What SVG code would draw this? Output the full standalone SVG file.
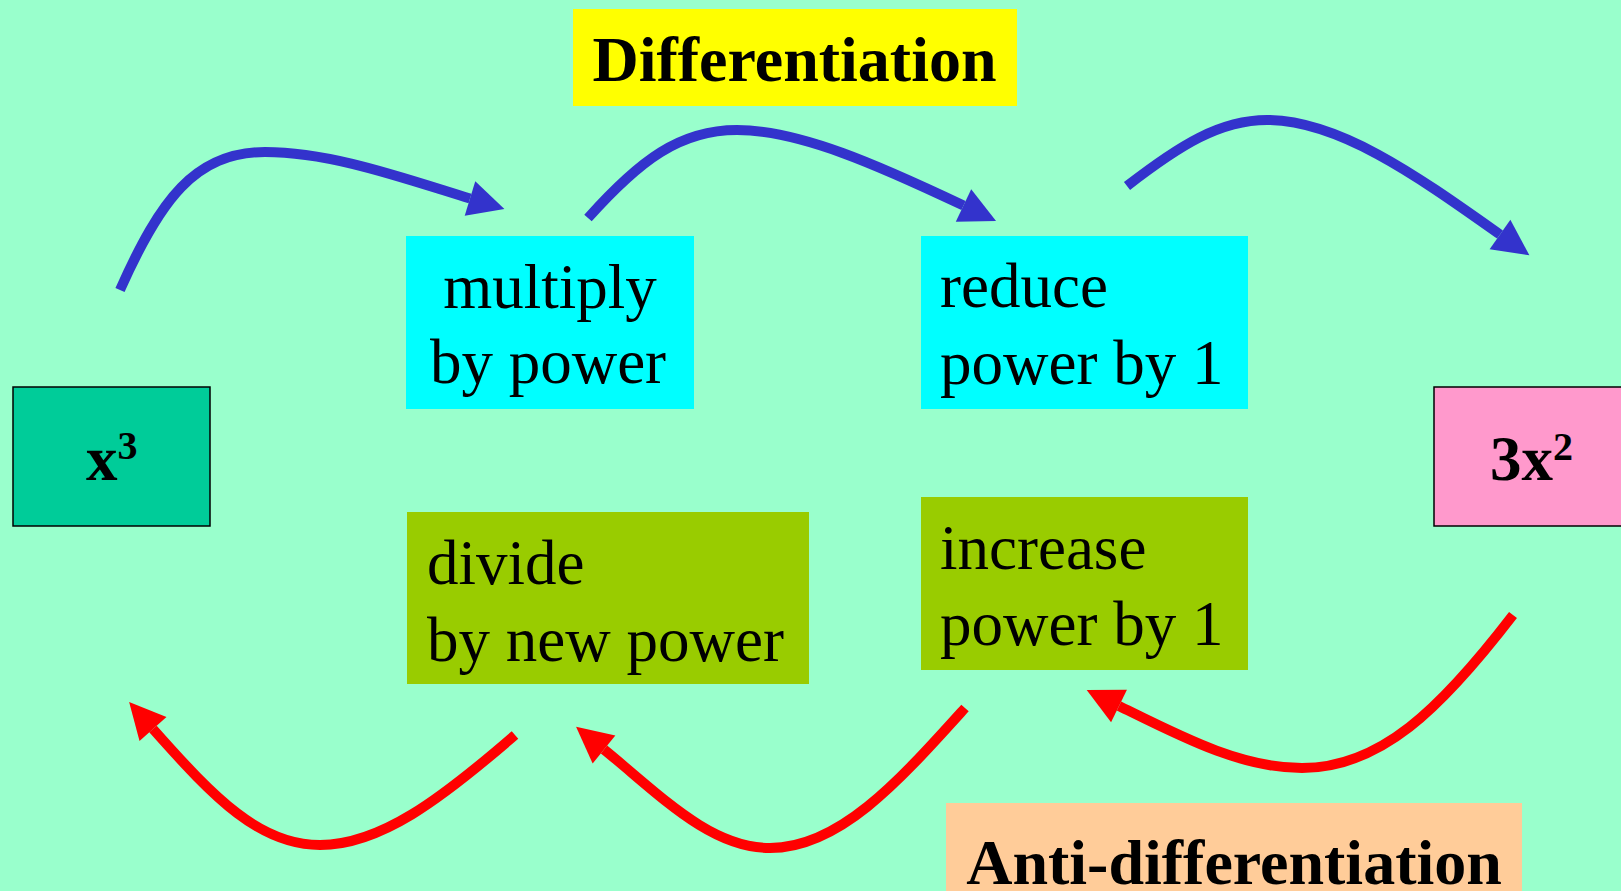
<svg xmlns="http://www.w3.org/2000/svg" width="1621" height="891" viewBox="0 0 1621 891">
<style>
.t{font-family:"Liberation Serif","Times New Roman",serif;font-size:63px;fill:#000}
.b{font-family:"Liberation Serif","Times New Roman",serif;font-weight:bold;fill:#000}
.blue{fill:none;stroke:#3333CC;stroke-width:10}
.red{fill:none;stroke:#FF0000;stroke-width:10}
</style>
<defs>
<marker id="hb" markerUnits="userSpaceOnUse" markerWidth="40" markerHeight="40" refX="0" refY="20" orient="auto" viewBox="0 0 40 40" overflow="visible">
<path d="M0,2 L36,20 L0,38 Z" fill="#3333CC"/>
</marker>
<marker id="hr" markerUnits="userSpaceOnUse" markerWidth="40" markerHeight="40" refX="0" refY="20" orient="auto" viewBox="0 0 40 40" overflow="visible">
<path d="M0,2 L36,20 L0,38 Z" fill="#FF0000"/>
</marker>
</defs>
<rect x="0" y="0" width="1621" height="891" fill="#99FFCC"/>

<g id="title-diff">
<rect x="573" y="9" width="444" height="97" fill="#FFFF00"/>
<text class="b" x="794.5" y="81" font-size="64" text-anchor="middle">Differentiation</text>
</g>
<g id="title-anti">
<rect x="946" y="803" width="576" height="100" fill="#FFCC99"/>
<text class="b" x="1234" y="884" font-size="64" text-anchor="middle">Anti-differentiation</text>
</g>

<g id="node-x3">
<rect x="13" y="387" width="197" height="139" fill="#00CC99" stroke="#000" stroke-width="1.5"/>
<text class="b" x="86" y="480" font-size="63">x<tspan font-size="40" dy="-21">3</tspan></text>
</g>
<g id="node-3x2">
<rect x="1434" y="387" width="200" height="139" fill="#FF99CC" stroke="#000" stroke-width="1.5"/>
<text class="b" x="1490" y="480" font-size="63">3x<tspan font-size="40" dy="-20">2</tspan></text>
</g>

<g id="node-multiply">
<rect x="406" y="236" width="288" height="173" fill="#00FFFF"/>
<text class="t" x="550" y="308" text-anchor="middle">multiply</text>
<text class="t" x="548" y="383" text-anchor="middle">by power</text>
</g>
<g id="node-reduce">
<rect x="921" y="236" width="327" height="173" fill="#00FFFF"/>
<text class="t" x="940" y="307">reduce</text>
<text class="t" x="940" y="384">power by 1</text>
</g>
<g id="node-divide">
<rect x="407" y="512" width="402" height="172" fill="#99CC00"/>
<text class="t" x="427" y="584">divide</text>
<text class="t" x="427" y="661">by new power</text>
</g>
<g id="node-increase">
<rect x="921" y="497" width="327" height="173" fill="#99CC00"/>
<text class="t" x="940" y="569">increase</text>
<text class="t" x="940" y="645">power by 1</text>
</g>

<g id="connectors">
<path class="blue" d="M120,290 C160,200 195,152 265,152 C330,152 400,177 470,198.5" marker-end="url(#hb)"/>
<path class="blue" d="M588,218 C640,160 680,130 737,130 C800,130 880,166 963.5,205.5" marker-end="url(#hb)"/>
<path class="blue" d="M1127,186 C1180,145 1220,120 1267,120 C1340,120 1420,178 1500,234.5" marker-end="url(#hb)"/>
<path class="red" d="M515,735 C440,800 380,845 320,845 C260,845 215,799 153,729" marker-end="url(#hr)"/>
<path class="red" d="M965,708 C900,780 840,848 770,848 C710,848 660,795 604,749.5" marker-end="url(#hr)"/>
<path class="red" d="M1513,615 C1440,710 1380,768 1302,768 C1240,768 1180,736 1119,706" marker-end="url(#hr)"/>
</g>
</svg>
